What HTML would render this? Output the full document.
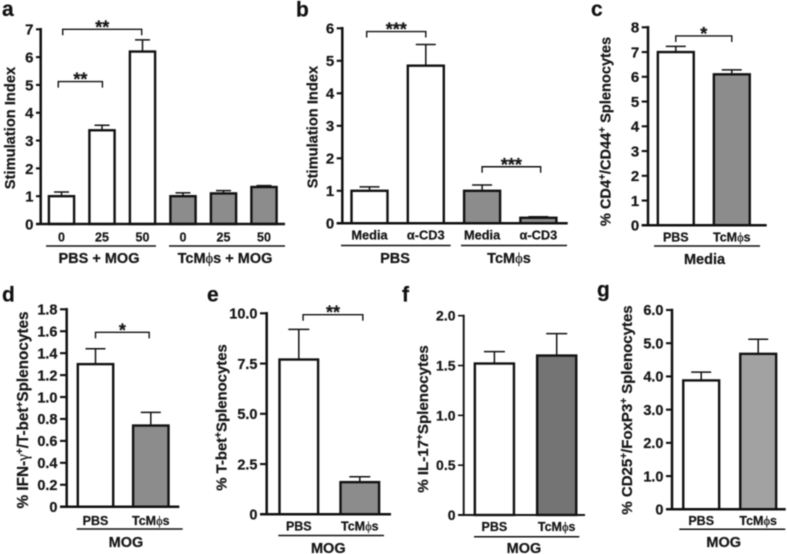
<!DOCTYPE html>
<html>
<head>
<meta charset="utf-8">
<title>Stimulation index and splenocyte panels</title>
<style>
html,body{margin:0;padding:0;background:#fff;width:787px;height:554px;overflow:hidden}
svg{display:block;filter:blur(0.4px)}
text{font-family:"Liberation Sans",sans-serif;font-weight:bold;fill:#161616;stroke:#161616;stroke-width:0.22px}
.phi{font-family:"Liberation Serif","DejaVu Serif",serif;font-weight:normal}
.letter{font-size:21px;fill:#111}
.ylab{font-size:14.7px;text-anchor:middle}
.grp{font-size:14.5px;text-anchor:middle}
.gl{stroke:#111;stroke-width:1.5}
</style>
</head>
<body>
<svg id="figure" width="787" height="554" viewBox="0 0 787 554" xmlns="http://www.w3.org/2000/svg">
<rect width="787" height="554" fill="#fff"/>

<text class="letter" x="2" y="16">a</text>
<text class="letter" x="296" y="16.5">b</text>
<text class="letter" x="591" y="16">c</text>
<text class="letter" x="2" y="301.5">d</text>
<text class="letter" x="207" y="301.5">e</text>
<text class="letter" x="402" y="301.5">f</text>
<text class="letter" x="597" y="296.5">g</text>

<text class="ylab" transform="translate(15,128) rotate(-90)">Stimulation Index</text>
<text class="ylab" transform="translate(317.5,127) rotate(-90)">Stimulation Index</text>
<text class="ylab" style="font-size:14.6px" transform="translate(610.5,131.5) rotate(-90)">% CD4<tspan dy="-5" font-size="10">+</tspan><tspan dy="5">/CD44</tspan><tspan dy="-5" font-size="10">+</tspan><tspan dy="5"> Splenocytes</tspan></text>
<text class="ylab" style="font-size:15.3px" transform="translate(28,410) rotate(-90)">% IFN-<tspan class="phi">γ</tspan><tspan dy="-5" font-size="10">+</tspan><tspan dy="5">/T-bet</tspan><tspan dy="-5" font-size="10">+</tspan><tspan dy="5">Splenocytes</tspan></text>
<text class="ylab" style="font-size:14.9px" transform="translate(226.5,417.5) rotate(-90)">% T-bet<tspan dy="-5" font-size="10">+</tspan><tspan dy="5">Splenocytes</tspan></text>
<text class="ylab" style="font-size:15.1px" transform="translate(428,419) rotate(-90)">% IL-17<tspan dy="-5" font-size="10">+</tspan><tspan dy="5">Splenocytes</tspan></text>
<text class="ylab" style="font-size:15px" transform="translate(632,410) rotate(-90)">% CD25<tspan dy="-5" font-size="10">+</tspan><tspan dy="5">/FoxP3</tspan><tspan dy="-5" font-size="10">+</tspan><tspan dy="5"> Splenocytes</tspan></text>

<line class="gl" x1="46" x2="156" y1="246" y2="246"/>
<line class="gl" x1="169" x2="285" y1="246" y2="246"/>
<text class="grp" x="99" y="263">PBS + MOG</text>
<text class="grp" x="225" y="263">TcM<tspan class="phi">ϕ</tspan>s + MOG</text>

<line class="gl" x1="341" x2="450.7" y1="245.5" y2="245.5"/>
<line class="gl" x1="461" x2="567" y1="245.5" y2="245.5"/>
<text class="grp" x="395" y="263">PBS</text>
<text class="grp" x="509" y="263">TcM<tspan class="phi">ϕ</tspan>s</text>

<line class="gl" x1="654" x2="760" y1="246" y2="246"/>
<text class="grp" x="704.5" y="264">Media</text>

<line class="gl" x1="76.7" x2="182.7" y1="529" y2="529"/>
<text class="grp" x="126" y="547">MOG</text>

<line class="gl" x1="278.3" x2="384" y1="535.5" y2="535.5"/>
<text class="grp" x="328.3" y="553">MOG</text>

<line class="gl" x1="474" x2="579.3" y1="536.7" y2="536.7"/>
<text class="grp" x="524" y="553">MOG</text>

<line class="gl" x1="679.3" x2="785.3" y1="529.3" y2="529.3"/>
<text class="grp" x="723.7" y="547">MOG</text>
</svg>

<script>
// ---- chart data ----
const aCategories = ["0","25","50","0","25","50"];
const aValues = [1.0,3.37,6.2,1.0,1.1,1.33];
const aErrorTops = [1.15,3.55,6.62,1.12,1.2,1.38];
const aFills = ["white","white","white","gray","gray","gray"];
const aTicks = [0,1,2,3,4,5,6,7];
const aTickLabels = ["0","1","2","3","4","5","6","7"];
const aBrackets = [{from:0.03,to:1.98,level:7.0,label:"**"},{from:-0.08,to:1.01,level:5.12,label:"**"}];

const bCategories = ["Media","α-CD3","Media","α-CD3"];
const bValues = [1.0,4.85,1.0,0.17];
const bErrorTops = [1.12,5.5,1.18,0.2];
const bFills = ["white","white","gray","gray"];
const bTicks = [0,1,2,3,4,5,6];
const bTickLabels = ["0","1","2","3","4","5","6"];
const bBrackets = [{from:-0.05,to:1.0,level:5.9,label:"***"},{from:2.0,to:3.04,level:1.74,label:"***"}];

const cCategories = ["PBS","TcMϕs"];
const cValues = [7.0,6.1];
const cErrorTops = [7.23,6.28];
const cFills = ["white","gray"];
const cTicks = [0,1,2,3,4,5,6,7,8];
const cTickLabels = ["0","1","2","3","4","5","6","7","8"];
const cBrackets = [{from:0,to:1,level:7.65,label:"*"}];

const dCategories = ["PBS","TcMϕs"];
const dValues = [1.3,0.74];
const dErrorTops = [1.44,0.86];
const dFills = ["white","gray"];
const dTicks = [0,0.2,0.4,0.6,0.8,1.0,1.2,1.4,1.6,1.8];
const dTickLabels = ["0","0.2","0.4","0.6","0.8","1.0","1.2","1.4","1.6","1.8"];
const dBrackets = [{from:0,to:0.97,level:1.59,label:"*"}];

const eCategories = ["PBS","TcMϕs"];
const eValues = [7.7,1.6];
const eErrorTops = [9.2,1.87];
const eFills = ["white","gray"];
const eTicks = [0,2.5,5,7.5,10];
const eTickLabels = ["0","2.5","5.0","7.5","10.0"];
const eBrackets = [{from:0.07,to:1.05,level:9.93,label:"**"}];

const fCategories = ["PBS","TcMϕs"];
const fValues = [1.52,1.6];
const fErrorTops = [1.64,1.82];
const fFills = ["white","dark"];
const fTicks = [0,0.5,1,1.5,2];
const fTickLabels = ["0","0.5","1.0","1.5","2.0"];
const fBrackets = [];

const gCategories = ["PBS","TcMϕs"];
const gValues = [3.88,4.68];
const gErrorTops = [4.13,5.12];
const gFills = ["white","light"];
const gTicks = [0,1,2,3,4,5,6];
const gTickLabels = ["0","1.0","2.0","3.0","4.0","5.0","6.0"];
const gBrackets = [];

// ---- panel layout ----
const panels = [
 {id:"a",cats:aCategories,vals:aValues,errs:aErrorTops,fills:aFills,ticks:aTicks,labels:aTickLabels,brs:aBrackets,
  ax:40.7,y0:224,yTop:29.3,vMax:7,axisStart:36,axisEnd:285,c0:61.5,step:40.5,bw:27.6,cap:15,catY:241.5,catFs:12.5,tickFs:15,sw:2.5},
 {id:"b",cats:bCategories,vals:bValues,errs:bErrorTops,fills:bFills,ticks:bTicks,labels:bTickLabels,brs:bBrackets,
  ax:342.3,y0:223.3,yTop:28.3,vMax:6,axisStart:336.7,axisEnd:567.7,c0:369.5,step:56.3,bw:38.4,cap:20,catY:239.5,catFs:12.8,tickFs:15,sw:2.5},
 {id:"c",cats:cCategories,vals:cValues,errs:cErrorTops,fills:cFills,ticks:cTicks,labels:cTickLabels,brs:cBrackets,
  ax:648,y0:225.3,yTop:27.3,vMax:8,axisStart:641.7,axisEnd:766.7,c0:675.8,step:56,bw:38.3,cap:20,catY:241.5,catFs:12.5,tickFs:15,sw:2.5},
 {id:"d",cats:dCategories,vals:dValues,errs:dErrorTops,fills:dFills,ticks:dTicks,labels:dTickLabels,brs:dBrackets,
  ax:66.7,y0:506.7,yTop:309.3,vMax:1.8,axisStart:60,axisEnd:179.3,c0:95.5,step:55.3,bw:37.8,cap:20,catY:525,catFs:12.5,tickFs:14.5,sw:2.5},
 {id:"e",cats:eCategories,vals:eValues,errs:eErrorTops,fills:eFills,ticks:eTicks,labels:eTickLabels,brs:eBrackets,
  ax:266.7,y0:514.3,yTop:313.3,vMax:10,axisStart:260,axisEnd:391,c0:298.8,step:61,bw:41,cap:21,catY:530.5,catFs:12.5,tickFs:14.5,sw:2.5},
 {id:"f",cats:fCategories,vals:fValues,errs:fErrorTops,fills:fFills,ticks:fTicks,labels:fTickLabels,brs:fBrackets,
  ax:463.7,y0:515,yTop:315.7,vMax:2,axisStart:458,axisEnd:585,c0:494.4,step:62.3,bw:41.5,cap:21,catY:531,catFs:12.5,tickFs:14,sw:1.9},
 {id:"g",cats:gCategories,vals:gValues,errs:gErrorTops,fills:gFills,ticks:gTicks,labels:gTickLabels,brs:gBrackets,
  ax:672,y0:509.3,yTop:310,vMax:6,axisStart:666,axisEnd:785.7,c0:701.2,step:57,bw:38.3,cap:20,catY:525,catFs:12.5,tickFs:14.5,sw:2.5}
];
const fillColors = {white:"#ffffff",gray:"#8c8c8c",dark:"#747474",light:"#a2a2a2"};
const ink = "#111111";

const svg = document.getElementById("figure");
const NS = "http://www.w3.org/2000/svg";
function mk(tag, attrs, parent){
  const el = document.createElementNS(NS, tag);
  for (const k in attrs) el.setAttribute(k, attrs[k]);
  (parent || svg).appendChild(el);
  return el;
}
function mkLine(x1,y1,x2,y2,sw,parent){
  return mk("line",{x1:x1,y1:y1,x2:x2,y2:y2,stroke:ink,"stroke-width":sw},parent);
}
function setCategoryText(el, label){
  const i = label.indexOf("ϕ");
  if (i < 0) { el.textContent = label; return; }
  el.appendChild(document.createTextNode(label.slice(0,i)));
  const t = mk("tspan",{"class":"phi"},el);
  t.textContent = "ϕ";
  el.appendChild(document.createTextNode(label.slice(i+1)));
}

panels.forEach(function(p){
  const yScale = function(v){ return p.y0 - (v / p.vMax) * (p.y0 - p.yTop); };
  const xScale = function(i){ return p.c0 + i * p.step; };
  const g = mk("g",{});
  
  

  // bars and error bars
  p.vals.forEach(function(v,i){
    const cx = xScale(i);
    const ey = yScale(p.errs[i]);
    const by = yScale(v);
    const stem = mkLine(cx,by,cx,ey,1.5,g);
    
    
    const capLine = mkLine(cx-p.cap/2,ey,cx+p.cap/2,ey,1.5,g);
    
    
    const bs = 2.4;
    const bar = mk("rect",{x:cx-p.bw/2+bs/2,y:by,width:p.bw-bs,height:Math.max(0,p.y0-by),
      fill:fillColors[p.fills[i]],stroke:ink,"stroke-width":bs},g);
    
    
    const cat = mk("text",{x:cx,y:p.catY,"text-anchor":"middle","font-size":p.catFs},g);
    setCategoryText(cat,p.cats[i]);
    
    
  });

  // axes
  const yAxis = mkLine(p.ax,p.yTop-p.sw/2,p.ax,p.y0,p.sw,g);
  
  
  const xAxis = mkLine(p.axisStart,p.y0,p.axisEnd,p.y0,p.sw,g);
  
  

  // y ticks
  p.ticks.forEach(function(t,i){
    const y = yScale(t);
    const tick = mkLine(p.axisStart,y,p.ax,y,p.sw*0.85,g);
    
    
    const lab = mk("text",{x:p.axisStart-2.5,y:y+p.tickFs*0.36,"text-anchor":"end","font-size":p.tickFs},g);
    lab.textContent = p.labels[i];
    
    
  });

  // significance brackets
  p.brs.forEach(function(b){
    const x1 = xScale(b.from), x2 = xScale(b.to), y = yScale(b.level);
    const br = mk("path",{d:"M"+x1+" "+(y+6)+"V"+y+"H"+x2+"V"+(y+6),fill:"none",stroke:ink,"stroke-width":1.4},g);
    
    
    const st = mk("text",{x:(x1+x2)/2,y:y+4,"text-anchor":"middle","font-size":18},g);
    st.textContent = b.label;
    
    
  });
});
</script>
</body>
</html>
